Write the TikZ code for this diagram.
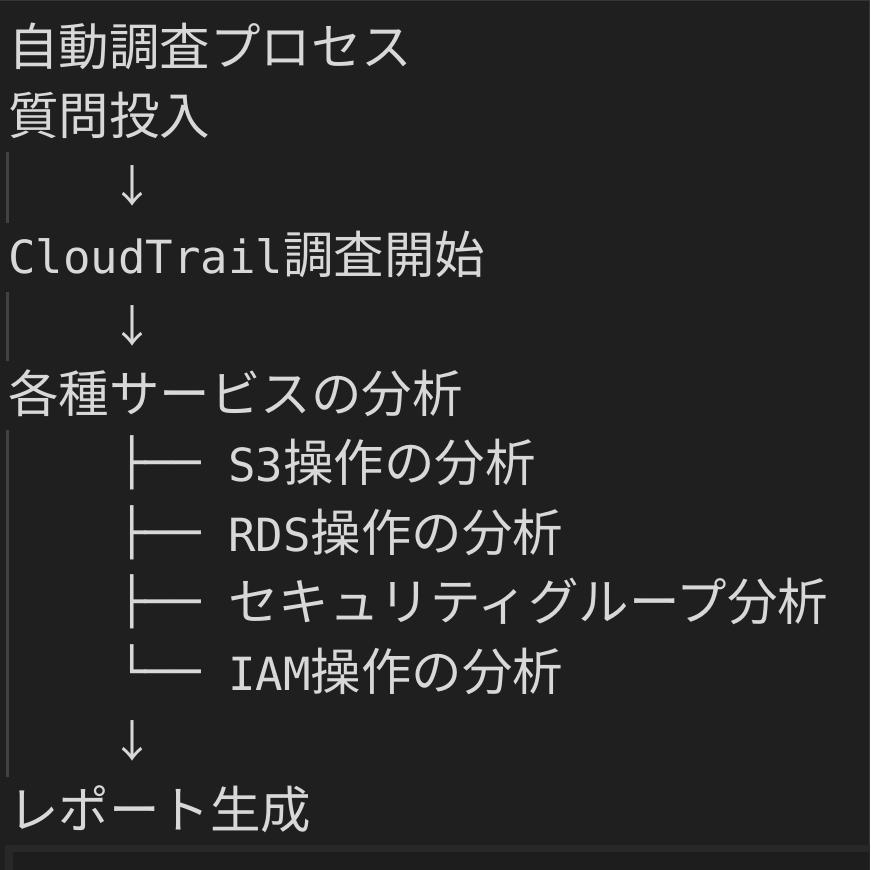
\documentclass[tikz,border=0pt]{standalone}
\usepackage{fontspec}
\newfontfamily\cjkf{Noto Sans CJK JP}
\newfontfamily\monof{DejaVu Sans Mono}
\definecolor{bg}{HTML}{1F1F1F}
\definecolor{fg}{HTML}{D8D8D8}
\definecolor{barc}{HTML}{424242}
\definecolor{edgec}{HTML}{363636}
\definecolor{boxband}{HTML}{282828}
\definecolor{boxin}{HTML}{1D1D1D}
\newcommand\latn[1]{{\monof\fontsize{45.7pt}{55pt}\selectfont #1}}
\tikzset{
  txt/.style={text=fg, inner sep=0pt, anchor=base west, font=\cjkf\fontsize{50.5pt}{60pt}\selectfont},
  arrowtxt/.style={text=fg, inner sep=0pt, anchor=center, font=\cjkf\fontsize{44pt}{50pt}\selectfont},
  bar/.style={barc, line width=3pt}
}
\begin{document}
\begin{tikzpicture}[x=1pt,y=-1pt]
\fill[bg] (0,0) rectangle (870,870);
\useasboundingbox (0,0) rectangle (870,870);
\draw[edgec, line width=1pt] (0,0.5) -- (869.5,0.5) -- (869.5,870);
% bottom box
\fill[boxband] (5,845) rectangle (870,870);
\fill[boxin] (13,852) rectangle (869,870);
% left bars
\draw[bar] (7,152) -- (7,223);
\draw[bar] (7,292) -- (7,361);
\draw[bar] (7,430) -- (7,777);
% lines
\node[txt] (title) at (8,65.5) {自動調査プロセス};
\node[txt] (q) at (8,134.9) {質問投入};
\node[arrowtxt] (a1) at (132,185.5) {↓};
\node[txt] (ct) at (8,273.7) {\latn{CloudTrail}調査開始};
\node[arrowtxt] (a2) at (132,325.5) {↓};
\node[txt] (svc) at (8,412.5) {各種サービスの分析};
\node[txt] (s3) at (118,481.9) {\raisebox{3pt}{\latn{├──}}\latn{ S3}操作の分析};
\node[txt] (rds) at (118,551.3) {\raisebox{3pt}{\latn{├──}}\latn{ RDS}操作の分析};
\node[txt] (sg) at (118,620.7) {\raisebox{3pt}{\latn{├──}}\latn{ }セキュリティグループ分析};
\node[txt] (iam) at (118,690.1) {\raisebox{3pt}{\latn{└──}}\latn{ IAM}操作の分析};
\node[arrowtxt] (a3) at (132,741) {↓};
\node[txt] (rep) at (8,828.9) {レポート生成};
\end{tikzpicture}
\end{document}
